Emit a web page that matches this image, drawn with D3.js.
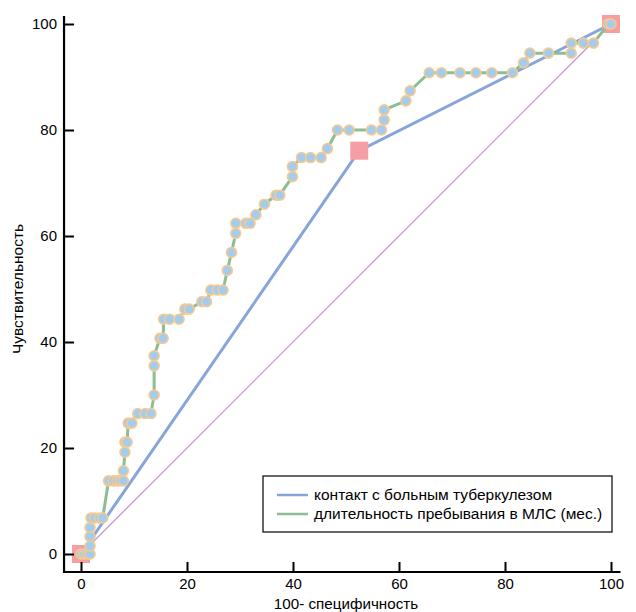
<!DOCTYPE html>
<html lang="ru">
<head>
<meta charset="utf-8">
<title>ROC</title>
<script src="https://d3js.org/d3.v7.min.js"></script>
<style>
  body { margin: 0; background: #fff; }
  svg text { font-family: "Liberation Sans", Arial, sans-serif; fill: #000; }
</style>
</head>
<body>
<div id="chart"></div>
<script>
// ROC: длительность пребывания в МЛС (мес.)
var rocX = [0, 0.6, 1.2, 1.7, 1.7, 1.7, 1.7, 1.9, 2.6, 3.5, 4.1,
  5.2, 6.1, 6.8, 7.4, 8.0, 8.0, 8.3, 8.3, 8.7, 8.9, 9.6,
  10.7, 12.1, 13.2, 13.8, 13.8, 13.8, 14.9, 15.5, 15.6, 16.7, 18.5,
  19.6, 20.4, 22.8, 23.7, 24.5, 25.7, 26.8, 27.6, 28.4, 29.2, 29.2, 31.1, 31.9,
  33.0, 34.6, 36.8, 37.5, 39.9, 39.9, 41.6, 43.3, 45.3, 46.5,
  48.4, 50.6, 54.8, 56.7, 57.2, 57.2, 61.3, 62.1,
  65.7, 68.0, 71.5, 74.5, 77.5, 81.4, 83.5, 84.7, 88.2, 92.5,
  92.5, 94.8, 96.7, 99.5, 100];
var rocY = [0, 0, 0, 0, 1.5, 3.3, 5.0, 6.8, 6.8, 6.8, 6.8,
  13.8, 13.8, 13.8, 13.8, 13.8, 15.7, 19.2, 21.1, 21.1, 24.7, 24.7,
  26.5, 26.5, 26.5, 30.0, 35.5, 37.4, 40.7, 40.7, 44.3, 44.3, 44.3,
  46.2, 46.2, 47.6, 47.6, 49.8, 49.8, 49.8, 53.5, 56.9, 60.5, 62.4, 62.4, 62.4,
  64.0, 66.0, 67.7, 67.7, 71.2, 73.1, 74.8, 74.8, 74.8, 76.5,
  80.0, 80.0, 80.0, 80.0, 81.9, 83.8, 85.5, 87.4,
  90.8, 90.8, 90.8, 90.8, 90.8, 90.8, 92.7, 94.5, 94.5, 94.5,
  96.4, 96.4, 96.4, 100, 100];

// ROC: контакт с больным туберкулезом
var contactX = [0, 52.5, 100];
var contactY = [0, 76.1, 100];

var refX = [0, 100];
var refY = [0, 100];

var majorTicks = [0, 20, 40, 60, 80, 100];
var minorTicks = d3.range(0, 101, 5);

var legendLabels = ["контакт с больным туберкулезом", "длительность пребывания в МЛС (мес.)"];
var colors = { contact: "#87a5d9", roc: "#8fbd92", ref: "#c292c9", square: "#f59ea3",
               dotFill: "#a3cdee", dotStroke: "#f8c98e" };

var W = 636, H = 612;
var svg = d3.select("#chart").append("svg").attr("width", W).attr("height", H);

var x = d3.scaleLinear().domain([0, 100]).range([81, 611]);
var y = d3.scaleLinear().domain([0, 100]).range([554, 24]);
var xLo = -3.2, xHi = 101.8, yLo = -3.4, yHi = 101.5;

var zip = (xs, ys) => xs.map((v, i) => [v, ys[i]]);
var line = d3.line().x(d => x(d[0])).y(d => y(d[1]));

// diagonal reference
svg.append("path").attr("d", line(zip(refX, refY)))
  .attr("fill", "none").attr("stroke", colors.ref).attr("stroke-width", 1.2);

// contact line
svg.append("path").attr("d", line(zip(contactX, contactY)))
  .attr("fill", "none").attr("stroke", colors.contact).attr("stroke-width", 3);

svg.selectAll("rect.sq").data(zip(contactX, contactY)).enter().append("rect")
  .attr("class", "sq")
  .attr("x", d => x(d[0]) - 9).attr("y", d => y(d[1]) - 9)
  .attr("width", 18).attr("height", 18)
  .attr("fill", colors.square);

// duration ROC
var rocPts = zip(rocX, rocY);
svg.append("path").attr("d", line(rocPts))
  .attr("fill", "none").attr("stroke", colors.roc).attr("stroke-width", 3);

svg.selectAll("circle.pt").data(rocPts).enter().append("circle")
  .attr("class", "pt")
  .attr("cx", d => x(d[0])).attr("cy", d => y(d[1])).attr("r", 5)
  .attr("fill", colors.dotFill).attr("stroke", colors.dotStroke).attr("stroke-width", 1.6);

// axes
var axisY0 = y(yLo), axisX0 = x(xLo);
var gx = svg.append("g").attr("transform", "translate(0," + axisY0 + ")");
gx.call(d3.axisBottom(x).tickValues(minorTicks).tickSize(-6).tickFormat(""));
gx.call(d3.axisBottom(x).tickValues(majorTicks).tickSize(-10).tickPadding(6).tickFormat(d3.format("d")));
gx.selectAll(".domain").remove();
gx.selectAll("line").attr("stroke", "#000").attr("stroke-width", 2);
gx.selectAll("text").attr("font-size", 15);

var gy = svg.append("g").attr("transform", "translate(" + axisX0 + ",0)");
gy.call(d3.axisLeft(y).tickValues(minorTicks).tickSize(-6).tickFormat(""));
gy.call(d3.axisLeft(y).tickValues(majorTicks).tickSize(-10).tickPadding(7).tickFormat(d3.format("d")));
gy.selectAll(".domain").remove();
gy.selectAll("line").attr("stroke", "#000").attr("stroke-width", 2);
gy.selectAll("text").attr("font-size", 15);

svg.append("path")
  .attr("d", "M" + x(xLo) + "," + y(yHi) + "V" + y(yLo) + "H" + x(xHi))
  .attr("fill", "none").attr("stroke", "#000").attr("stroke-width", 2.2);

// axis titles
svg.append("text").attr("x", x(50)).attr("y", 609).attr("text-anchor", "middle")
  .attr("font-size", 15.2).text("100- специфичность");
svg.append("text").attr("transform", "translate(23," + y(50) + ") rotate(-90)")
  .attr("text-anchor", "middle").attr("font-size", 15.5).text("Чувствительность");

// legend
var lg = svg.append("g");
lg.append("rect").attr("x", 263).attr("y", 476).attr("width", 349).attr("height", 56)
  .attr("fill", "#fff").attr("stroke", "#000").attr("stroke-width", 1.2);
[colors.contact, colors.roc].forEach(function (c, i) {
  var yy = 495 + i * 19;
  lg.append("line").attr("x1", 277).attr("x2", 308).attr("y1", yy).attr("y2", yy)
    .attr("stroke", c).attr("stroke-width", 2.5);
  lg.append("text").attr("x", 314).attr("y", yy + 5).attr("font-size", 15.5).text(legendLabels[i]);
});
</script>
</body>
</html>
